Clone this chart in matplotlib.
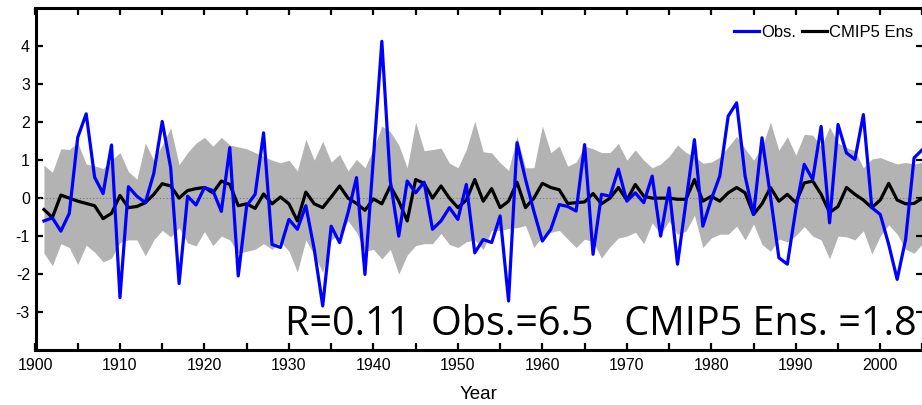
import numpy as np
import matplotlib
matplotlib.use("Agg")
import matplotlib.pyplot as plt
from matplotlib.ticker import MultipleLocator, FixedLocator

years = np.arange(1901, 2006)

obs = [-0.6, -0.52, -0.87, -0.4, 1.6, 2.22, 0.55, 0.12, 1.4, -2.62,
       0.3, 0.05, -0.12, 0.65, 2.02, 0.8, -2.25, 0.05, -0.18, 0.28,
       0.2, -0.35, 1.33, -2.05, -0.2, 0.1, 1.72, -1.22, -1.3, -0.56,
       -0.82, -0.2, -1.35, -2.84, -0.74, -1.17, -0.38, 0.54, -2.01, 1.05,
       4.13, 0.45, -1.0, 0.45, 0.14, 0.42, -0.82, -0.6, -0.25, -0.56,
       0.36, -1.44, -1.09, -1.17, -0.47, -2.71, 1.46, 0.5, -0.35, -1.13,
       -0.82, -0.17, -0.22, -0.34, 1.41, -1.48, 0.1, 0.05, 0.76, -0.08,
       0.14, -0.12, 0.58, -1.0, 0.27, -1.74, -0.1, 1.54, -0.74, -0.03,
       0.58, 2.16, 2.51, 0.58, -0.43, 1.59, 0.05, -1.57, -1.74, -0.3,
       0.89, 0.49, 1.89, -0.65, 1.94, 1.19, 1.02, 2.2, -0.25, -0.43,
       -1.22, -2.14, -1.09, 1.06, 1.28]

ens = [-0.3, -0.51, 0.08, 0.0, -0.08, -0.14, -0.2, -0.54, -0.4, 0.07,
       -0.25, -0.22, -0.12, 0.1, 0.38, 0.32, 0.0, 0.2, 0.25, 0.28,
       0.14, 0.45, 0.36, -0.2, -0.15, -0.27, 0.11, -0.15, 0.03, -0.15,
       -0.6, 0.16, -0.15, -0.25, 0.03, 0.32, 0.0, -0.14, -0.32, -0.02,
       -0.15, 0.32, -0.08, -0.6, 0.49, 0.39, 0.0, 0.32, 0.0, -0.25,
       -0.05, 0.49, -0.08, 0.25, -0.25, -0.08, 0.42, -0.25, 0.0, 0.39,
       0.28, 0.22, -0.14, -0.12, -0.1, 0.12, -0.15, 0.0, 0.28, -0.05,
       0.36, 0.05, 0.0, 0.0, 0.0, -0.03, -0.03, 0.49, -0.08, 0.05,
       -0.08, 0.14, 0.28, 0.14, -0.43, -0.15, 0.28, -0.08, 0.1, -0.12,
       0.4, 0.45, 0.1, -0.38, -0.22, 0.28, 0.1, -0.05, -0.25, -0.05,
       0.39, -0.05, -0.15, -0.14, 0.0]

ens_hi = [0.87, 0.68, 1.3, 1.28, 1.46, 0.9, 0.85, 0.78, 1.0, 1.2,
          0.7, 0.5, 1.45, 1.0, 1.4, 1.85, 0.88, 1.2, 1.45, 1.6,
          1.37, 1.6, 1.4, 1.35, 1.3, 1.2, 1.1, 1.0, 0.93, 1.0,
          0.72, 1.55, 1.0, 1.5, 0.95, 1.15, 0.72, 1.02, 0.8, 1.3,
          1.9, 1.75, 1.4, 0.8, 2.0, 1.25, 1.28, 1.32, 0.92, 0.8,
          1.28, 2.03, 1.22, 1.19, 0.93, 0.73, 1.63, 0.8, 0.8, 1.9,
          1.2, 1.37, 0.84, 0.95, 1.37, 1.3, 1.2, 1.2, 1.44, 1.0,
          1.27, 1.0, 0.8, 0.9, 1.1, 1.4, 1.2, 1.1, 0.92, 0.95,
          1.08, 1.35, 1.63, 1.3, 1.0, 1.35, 2.0, 1.26, 1.62, 1.13,
          1.68, 1.66, 1.35, 1.88, 1.45, 1.33, 1.25, 0.8, 1.03, 1.07,
          0.98, 0.9, 0.94, 0.9, 0.95]

ens_lo = [-1.45, -1.78, -1.2, -1.3, -1.75, -1.24, -1.42, -1.68, -1.58, -1.17,
          -1.1, -1.1, -1.52, -1.1, -0.85, -1.02, -0.78, -1.18, -1.26, -0.88,
          -1.25, -1.0, -1.1, -1.45, -1.4, -1.35, -1.2, -1.35, -1.15, -1.4,
          -1.95, -1.1, -1.5, -1.95, -1.1, -0.95, -0.6, -0.9, -1.4, -1.35,
          -1.6, -1.35, -2.0, -1.5, -1.25, -1.2, -1.2, -0.93, -1.22, -1.3,
          -1.15, -1.1, -1.35, -0.85, -0.85, -0.8, -0.78, -0.72, -1.3, -1.0,
          -0.9, -0.85, -1.08, -1.3, -1.08, -1.15, -1.58, -1.28, -1.05, -1.0,
          -0.9, -1.2, -0.65, -0.95, -0.6, -0.95, -0.87, -0.45, -1.3, -1.05,
          -0.95, -0.95, -0.74, -1.1, -0.68, -1.22, -1.4, -1.08, -1.15, -0.99,
          -0.75, -1.0, -1.1, -1.6, -1.0, -1.02, -1.1, -0.86, -1.47, -1.0,
          -0.7, -0.95, -1.35, -1.45, -1.2]

stats_text = "R=0.11  Obs.=6.5   CMIP5 Ens. =1.8"


def main():
    plt.rcParams['font.family'] = ['Liberation Sans', 'DejaVu Sans']
    plt.rcParams['axes.unicode_minus'] = False
    W, H = 922, 405
    fig = plt.figure(figsize=(W / 100, H / 100), dpi=100)
    ax = fig.add_axes([35.5 / W, (H - 350) / H, (922.5 - 35.5) / W, (350 - 8.3) / H])

    ax.fill_between(years, ens_lo, ens_hi, color='#b3b3b3', linewidth=0, zorder=1)
    ax.axhline(0, color='#777777', linestyle=(0, (1, 2)), linewidth=0.8, zorder=2)
    ax.plot(years, obs, color='#0000ff', linewidth=2.3, label='Obs.', zorder=4)
    ax.plot(years, ens, color='black', linewidth=2.3, label='CMIP5 Ens', zorder=3)

    ax.set_xlim(1900, 2005)
    ax.set_ylim(-4, 5)
    ax.xaxis.set_major_locator(MultipleLocator(10))
    ax.xaxis.set_minor_locator(MultipleLocator(5))
    ax.yaxis.set_major_locator(FixedLocator(range(-3, 5)))
    ax.tick_params(which='both', direction='in', top=True, right=True,
                   length=5, width=1.6, labelsize=11.5)
    ax.tick_params(axis='x', pad=6)
    ax.tick_params(axis='y', pad=4)
    for s in ax.spines.values():
        s.set_linewidth(2.2)

    ax.set_xlabel("Year", fontsize=13.5, labelpad=9)

    ax.legend(loc='upper right', ncol=2, frameon=False, fontsize=12,
              handlelength=1.5, handletextpad=0.1, columnspacing=0.4,
              borderaxespad=0.1, bbox_to_anchor=(0.999, 0.975))

    ax.text(0.993, 0.044, stats_text, transform=ax.transAxes, ha='right',
            va='baseline', fontsize=28.5, family=['Open Sans', 'DejaVu Sans'])

    fig.savefig('out.png', dpi=100)


if __name__ == "__main__":
    main()
